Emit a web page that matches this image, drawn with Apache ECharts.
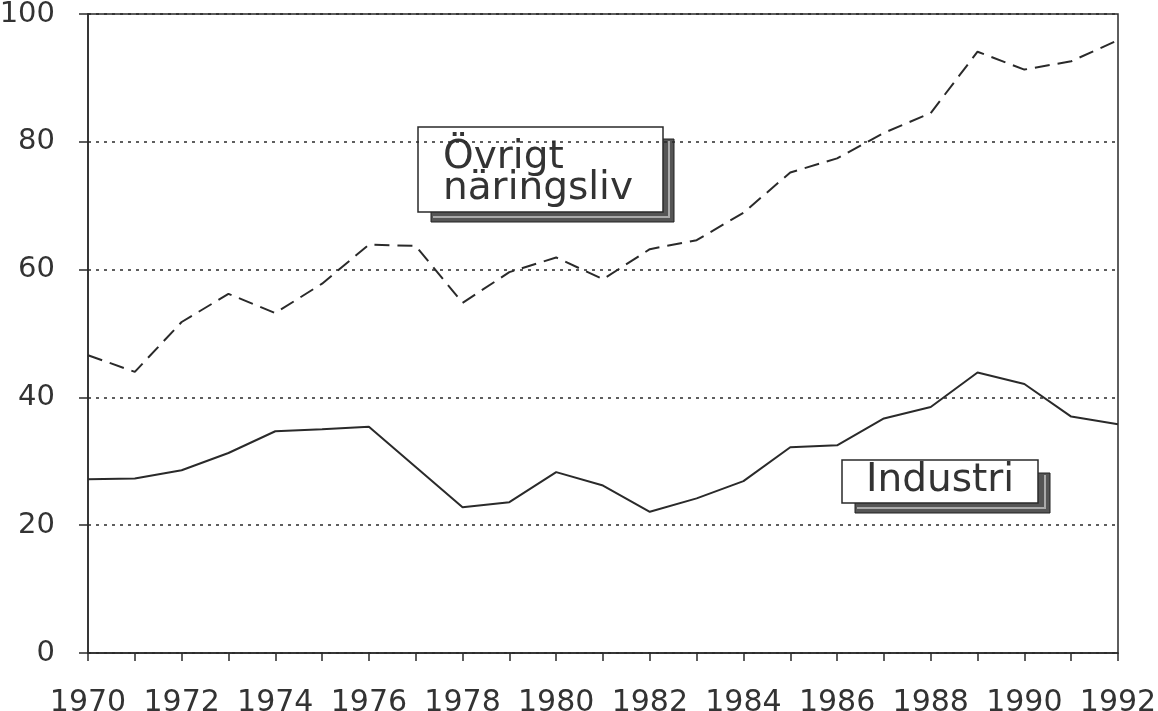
<!DOCTYPE html>
<html>
<head>
<meta charset="utf-8">
<script src="https://cdn.jsdelivr.net/npm/echarts@6/dist/echarts.min.js"></script>
<style>
html,body{margin:0;padding:0;background:#fff;}
#c{width:1158px;height:711px;}
</style>
</head>
<body>
<div id="c"></div>
<script>
const years = ['1970','1971','1972','1973','1974','1975','1976','1977','1978','1979','1980','1981','1982','1983','1984','1985','1986','1987','1988','1989','1990','1991','1992'];
const ovrigt = [46.6,44.0,51.8,56.2,53.2,57.8,63.9,63.7,54.8,59.6,61.9,58.5,63.2,64.6,68.9,75.2,77.4,81.4,84.5,94.1,91.3,92.6,95.9];
const industri = [27.2,27.3,28.6,31.3,34.7,35.0,35.4,29.1,22.8,23.6,28.3,26.2,22.1,24.2,26.9,32.2,32.5,36.7,38.5,43.9,42.1,37.0,35.8];
const yTicks = [0,20,40,60,80,100];
const labelOvrigt = ['Övrigt','näringsliv'];
const labelIndustri = 'Industri';

const FONT = 'DejaVu Sans';
const INK = '#2a2a2a';
const chart = echarts.init(document.getElementById('c'), null, {renderer:'canvas'});

function boxGroup(x, y, w, h, sx, sy, sw, sh, lines, tx, tys) {
  const children = [
    {type:'rect', shape:{x:sx, y:sy, width:sw, height:sh},
     style:{fill:'#555', stroke:'#222', lineWidth:1}},
    {type:'rect', shape:{x:sx+2, y:sy+sh-6, width:sw-8, height:2},
     style:{fill:'#aaa'}},
    {type:'rect', shape:{x:sx+sw-6, y:sy+2, width:2, height:sh-6},
     style:{fill:'#aaa'}},
    {type:'rect', shape:{x:x, y:y, width:w, height:h},
     style:{fill:'#fff', stroke:INK, lineWidth:1.5}}
  ];
  lines.forEach((t,i)=>{
    children.push({type:'text', x:tx, y:tys[i],
      style:{text:t, font:'39px "'+FONT+'"', fill:'#333', verticalAlign:'middle', align:'left'}});
  });
  return {type:'group', children};
}

chart.setOption({
  backgroundColor:'#fff',
  animation:false,
  grid:{left:88, right:40, top:14, bottom:58, show:true, borderColor:INK, borderWidth:1.5,
        backgroundColor:'transparent', containLabel:false, outerBoundsMode:'none'},
  xAxis:{
    type:'category', data:years, boundaryGap:false,
    axisLine:{lineStyle:{color:INK, width:1.5}},
    axisTick:{show:true, interval:0, length:8, lineStyle:{color:INK, width:1.5}},
    axisLabel:{interval:1, color:'#333', fontFamily:FONT, fontSize:30, margin:35},
    splitLine:{show:false}
  },
  yAxis:{
    type:'value', min:yTicks[0], max:yTicks[yTicks.length-1], interval:20,
    axisLine:{show:true, lineStyle:{color:INK, width:1.5}},
    axisTick:{show:true, length:9, lineStyle:{color:INK, width:1.5}},
    axisLabel:{color:'#333', fontFamily:FONT, fontSize:29, margin:33},
    splitLine:{show:true, lineStyle:{color:INK, width:1.5, type:[3,5]}}
  },
  series:[
    {name:'Övrigt näringsliv', type:'line', data:ovrigt, symbol:'none',
     lineStyle:{color:INK, width:2, type:[15,8]}},
    {name:'Industri', type:'line', data:industri, symbol:'none',
     lineStyle:{color:INK, width:2}}
  ],
  graphic:[
    boxGroup(418,127,245,85, 431,139,243,83, labelOvrigt, 443, [158,189]),
    boxGroup(842,460,196,43, 855,473,195,40, [labelIndustri], 866, [481])
  ]
});
</script>
</body>
</html>
